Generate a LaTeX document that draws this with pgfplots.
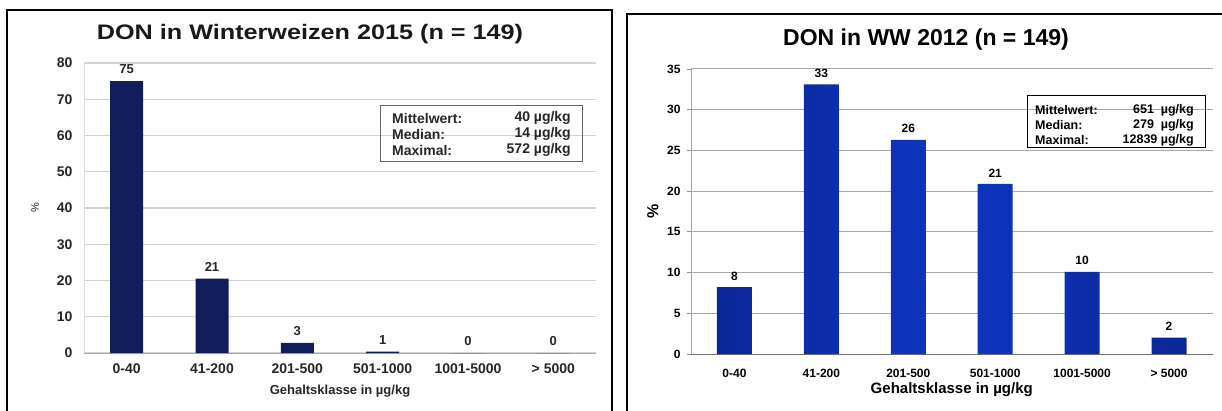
\documentclass[border=0pt]{standalone}
\usepackage{pgfplots}
\pgfplotsset{compat=1.18}
\usepackage{fontspec}
\setmainfont{Liberation Sans}
\definecolor{navy}{HTML}{101E5C}
\definecolor{wwmid}{HTML}{0E36C2}
\definecolor{wwside}{HTML}{0A2796}
\definecolor{lgrid}{HTML}{D2D2D2}
\definecolor{rgrid}{HTML}{A8A8A8}
\definecolor{ltxt}{HTML}{262626}
\newcommand{\fs}[1]{\fontsize{#1}{#1}\selectfont\bfseries}
\pgfplotsset{/pgf/number format/assume math mode=true}
\begin{document}
\begin{tikzpicture}
\useasboundingbox (0pt,0pt) rectangle (1222pt,410pt);
\fill[white] (0pt,0pt) rectangle (1222pt,410pt);
% panel frames
\draw[line width=2pt] (7pt,-5pt) -- (7pt,400pt) -- (612pt,400pt) -- (612pt,-5pt);
\draw[line width=2pt] (627pt,-5pt) -- (627pt,396pt) -- (1230pt,396pt);
% ---------------- left chart ----------------
\begin{axis}[at={(84pt,57pt)}, anchor=south west, scale only axis,
  width=512pt, height=290pt,
  xmin=-0.5, xmax=5.5, ymin=0, ymax=80,
  ytick={0,10,...,80}, xtick={0,...,5},
  xticklabels={0-40,41-200,201-500,501-1000,1001-5000,> 5000},
  axis x line*=bottom, axis y line*=left,
  x axis line style={-, draw=black!35, line width=1pt},
  y axis line style={-, draw=black!15, line width=1pt},
  major tick length=0pt,
  ymajorgrids, grid style={draw=lgrid, line width=1.2pt},
  yticklabel style={font=\fs{14}, text=ltxt, xshift=-8pt},
  xticklabel style={font=\fs{14}, text=ltxt, yshift=-7pt},
  xlabel={Gehaltsklasse in µg/kg},
  xlabel style={font=\fs{13}, text=ltxt, at={(axis description cs:0.5,0)}, anchor=center, yshift=-38pt},
  ylabel={\%},
  ylabel style={font=\fontsize{11}{11}\selectfont, text=ltxt, at={(axis description cs:-0.0957,0.5)}, anchor=center},
  clip=false,
]
\addplot[ybar, bar width=33pt, fill=navy, draw=none,
  nodes near coords, point meta=explicit symbolic,
  every node near coord/.append style={font=\fs{13}, text=ltxt, anchor=center, yshift=12pt}]
  table[meta=label] {
x y label
0 75 75
1 20.5 21
2 2.8 3
3 0.4 1
4 0 0
5 0 0
};
\end{axis}
\begin{scope}[x=1pt,y=1pt]
\node[font=\fs{21}, text=black!90] at (310,375.5) {\scalebox{1.2}[1]{DON in Winterweizen 2015 (n = 149)}};
\draw[draw=black!60, line width=1pt] (380,304) rectangle (582,248);
\begin{scope}[every node/.style={font=\fs{14}, text=ltxt, inner sep=0pt}]
\node[anchor=west] at (392,292) {Mittelwert:};
\node[anchor=west] at (392,276) {Median:};
\node[anchor=west] at (392,260) {Maximal:};
\node[anchor=east] at (571,292) {40 µg/kg};
\node[anchor=east] at (571,276) {14 µg/kg};
\node[anchor=east] at (571,260) {572 µg/kg};
\end{scope}
\end{scope}
% ---------------- right chart ----------------
\begin{axis}[at={(691pt,56pt)}, anchor=south west, scale only axis,
  width=521.5pt, height=285pt,
  xmin=-0.5, xmax=5.5, ymin=0, ymax=35,
  ytick={0,5,...,35}, xtick={0,...,5},
  xticklabels={0-40,41-200,201-500,501-1000,1001-5000,> 5000},
  axis x line*=bottom, axis y line*=left,
  x axis line style={-, draw=black!55, line width=1pt},
  y axis line style={-, draw=black!35, line width=1pt},
  tick align=outside, major tick length=4pt,
  ytick style={draw=black!45, line width=0.8pt}, xtick style={draw=none},
  ymajorgrids, grid style={draw=rgrid, line width=1pt},
  yticklabel style={font=\fs{12}, text=black, xshift=-3pt},
  xticklabel style={font=\fs{12}, text=black, yshift=-8pt},
  xlabel={Gehaltsklasse in µg/kg},
  xlabel style={font=\fs{15}, text=black, at={(axis description cs:0.5,0)}, anchor=center, yshift=-36pt},
  ylabel={\%},
  ylabel style={font=\fs{16}, text=black, at={(axis description cs:-0.0729,0.5)}, anchor=center},
  clip=false,
]
\addplot[ybar, bar width=35pt, draw=none, left color=wwside, right color=wwside, middle color=wwmid,
  nodes near coords, point meta=explicit symbolic,
  every node near coord/.append style={font=\fs{12}, text=black, anchor=center, yshift=11pt}]
  table[meta=label] {
x y label
0 8.2 8
1 33.1 33
2 26.3 26
3 20.9 21
4 10.1 10
5 2.0 2
};
\end{axis}
\begin{scope}[x=1pt,y=1pt]
\node[font=\fs{23}] at (926,370) {DON in WW 2012 (n = 149)};
\draw[draw=black, line width=1pt] (1027,314) rectangle (1205,262);
\begin{scope}[every node/.style={font=\fs{12.5}, text=black, inner sep=0pt}]
\node[anchor=west] at (1035,300) {Mittelwert:};
\node[anchor=west] at (1035,285) {Median:};
\node[anchor=west] at (1035,270) {Maximal:};
\node[anchor=east] at (1194,300) {651 \ µg/kg};
\node[anchor=east] at (1194,285) {279 \ µg/kg};
\node[anchor=east] at (1194,270) {12839 µg/kg};
\end{scope}
\end{scope}
\end{tikzpicture}
\end{document}
